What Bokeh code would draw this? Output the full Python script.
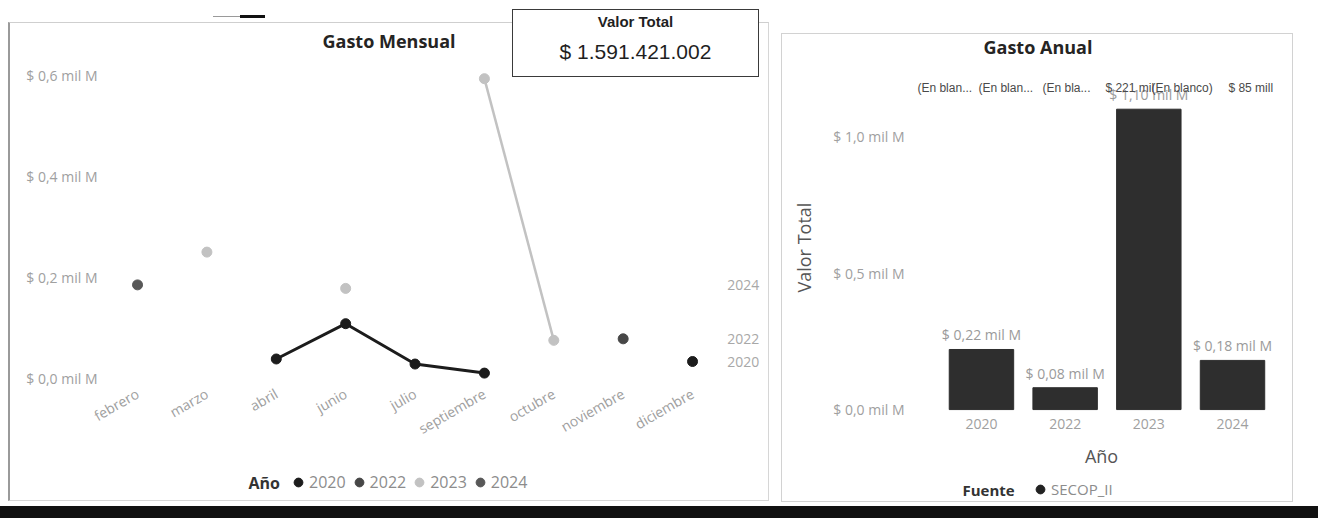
import math
from bokeh.plotting import figure
from bokeh.models import (Range1d, FixedTicker, CustomJSTickFormatter, Legend,
                          LegendItem, Div, Label, Title)
from bokeh.layouts import column
from bokeh.core.properties import value
from bokeh.embed import file_html
from bokeh.resources import INLINE

nan = float("nan")

# ---------------- data ----------------
months = ["febrero", "marzo", "abril", "junio", "julio", "septiembre",
          "octubre", "noviembre", "diciembre"]
series_years = ["2020", "2022", "2023", "2024"]
gasto_2020 = [nan, nan, 0.038, 0.108, 0.028, 0.010, nan, nan, 0.033]
gasto_2022 = [nan, nan, nan, nan, nan, nan, nan, 0.078, nan]
gasto_2023 = [nan, 0.250, nan, 0.178, nan, 0.594, 0.075, nan, nan]
gasto_2024 = [0.185, nan, nan, nan, nan, nan, nan, nan, nan]
end_label_years = ["2020", "2022", "2024"]

annual_years = ["2020", "2022", "2023", "2024"]
annual_total = [0.22, 0.08, 1.10, 0.18]
fuente = "SECOP_II"

top_labels = ["(En blan...", "(En blan...", "(En bla...", "$ 221 mil",
              "(En blanco)", "$ 85 mill"]
valor_total = 1591421002

# ---------------- styles ----------------
FONT = "Open Sans"
TICK = "#a0a0a0"
series_color = {"2020": "#1c1c1c", "2022": "#474747", "2023": "#c2c2c2", "2024": "#585858"}
series_width = {"2020": 3, "2022": 2.5, "2023": 2.5, "2024": 2.5}
monthly = {"2020": gasto_2020, "2022": gasto_2022, "2023": gasto_2023, "2024": gasto_2024}

fmt = CustomJSTickFormatter(code="return '$ ' + tick.toFixed(1).replace('.', ',') + ' mil M';")

LB = 200  # fixed left border of both figures (dominates any measured size)


def style_axes(p):
    for ax in (p.xaxis + p.yaxis):
        ax.axis_line_color = None
        ax.major_tick_line_color = None
        ax.minor_tick_line_color = None
        ax.major_tick_out = 0
        ax.major_tick_in = 0
        ax.major_label_text_font = FONT
        ax.major_label_text_color = TICK
    p.xgrid.grid_line_color = None
    p.ygrid.grid_line_color = None
    p.outline_line_color = None
    p.background_fill_color = "white"
    p.border_fill_color = "white"


def make_legend(items, title, font_size, title_xy, loc, p):
    leg = Legend(items=items, orientation="horizontal", location=loc)
    leg.label_text_font = FONT
    leg.label_text_font_size = font_size
    leg.label_text_color = "#8c8c8c"
    leg.glyph_width = 22
    leg.glyph_height = 22
    leg.label_standoff = 0
    leg.spacing = 2
    leg.padding = 0
    leg.margin = 0
    leg.border_line_color = None
    leg.background_fill_alpha = 0
    p.add_layout(leg, "center")
    p.add_layout(Label(x=title_xy[0], y=title_xy[1], x_units="screen", y_units="screen",
                       text=title, text_font=FONT, text_font_size=font_size,
                       text_font_style="bold", text_color="#333333",
                       text_baseline="middle"))


# ---------------- left: Gasto Mensual ----------------
# frame: page x 85..766, y 56..~494 ; y=0 at page y 377
left = figure(frame_width=681, frame_height=444, x_range=Range1d(-0.75, 9.066),
              y_range=Range1d(-0.2308, 0.638), output_backend="svg",
              toolbar_location=None, title="Gasto Mensual",
              min_border_left=LB, min_border_right=1, min_border_top=40,
              min_border_bottom=40)
style_axes(left)
left.title.text_font = FONT
left.title.text_font_size = "18px"
left.title.text_font_style = "bold"
left.title.text_color = "#252423"
left.title.align = "left"
left.title.offset = 237
left.title.standoff = 7

left.yaxis.ticker = FixedTicker(ticks=[0, 0.2, 0.4, 0.6])
left.yaxis.formatter = fmt
left.yaxis.major_label_text_font_size = "14px"
left.yaxis.major_label_standoff = -12

left.xaxis.ticker = FixedTicker(ticks=list(range(len(months))))
left.xaxis.major_label_overrides = {i: m for i, m in enumerate(months)}
left.xaxis.major_label_orientation = math.pi / 6
left.xaxis.major_label_text_font_size = "14px"
left.xaxis.major_label_standoff = 6
left.xaxis.fixed_location = -0.016

xs = list(range(len(months)))
leg_items = []
for yr in ["2023", "2020", "2022", "2024"]:
    left.line(x=xs, y=monthly[yr], line_color=series_color[yr], line_width=series_width[yr])
for yr in series_years:
    vals = monthly[yr]
    px = [i for i, v in enumerate(vals) if v == v]
    py = [v for v in vals if v == v]
    r = left.scatter(x=px, y=py, size=10, fill_color=series_color[yr],
                     line_color=series_color[yr])
    leg_items.append(LegendItem(label=yr, renderers=[r]))

end_y = []
for yr in end_label_years:
    vals = [v for v in monthly[yr] if v == v]
    end_y.append(vals[-1])
left.text(x=[len(months) - 1 + 0.5] * len(end_label_years), y=end_y, text=end_label_years,
          text_font=value(FONT), text_font_size="14px", text_color="#a8a8a8",
          text_baseline="middle", text_align="left")

make_legend(leg_items, "Año", "16px", (163, 12), (202, 1), left)

# ---------------- right: Gasto Anual ----------------
# frame: page x 912..1290, y 62..~500 ; y=0 at page y 409
right = figure(frame_width=378, frame_height=443, x_range=Range1d(-0.824, 3.693),
               y_range=Range1d(-0.333, 1.271), output_backend="svg",
               toolbar_location=None, title="Gasto Anual",
               min_border_left=LB, min_border_right=1, min_border_top=40,
               min_border_bottom=40)
style_axes(right)
right.border_fill_alpha = 0
right.title.text_font = FONT
right.title.text_font_size = "18px"
right.title.text_font_style = "bold"
right.title.text_color = "#252423"
right.title.align = "left"
right.title.offset = 71
right.title.standoff = 7

right.yaxis.ticker = FixedTicker(ticks=[0, 0.5, 1.0])
right.yaxis.formatter = fmt
right.yaxis.major_label_text_font_size = "14px"
right.yaxis.major_label_standoff = 8
right.add_layout(Title(text="Valor Total", align="left", offset=208, standoff=30,
                       text_font=FONT, text_font_size="18px", text_font_style="normal",
                       text_color="#555555"), "left")

bx = list(range(len(annual_years)))
right.xaxis.ticker = FixedTicker(ticks=bx)
right.xaxis.major_label_overrides = {i: y for i, y in enumerate(annual_years)}
right.xaxis.major_label_text_font_size = "14px"
right.xaxis.major_label_standoff = 9
right.xaxis.axis_label = "Año"
right.xaxis.axis_label_text_font = FONT
right.xaxis.axis_label_text_font_size = "18px"
right.xaxis.axis_label_text_font_style = "normal"
right.xaxis.axis_label_text_color = "#555555"
right.xaxis.axis_label_standoff = 12
right.xaxis.fixed_location = 0

right.vbar(x=bx, top=annual_total, width=0.77, fill_color="#2e2e2e", line_color="#2e2e2e")
bar_labels = ["$ " + f"{v:.2f}".replace(".", ",") + " mil M" for v in annual_total]
right.text(x=bx, y=annual_total, text=bar_labels, text_font=value(FONT),
           text_font_size="14px", text_color="#9a9a9a", text_align="center",
           text_baseline="bottom", y_offset=-5)

top_x = [-0.765, -0.036, 0.729, 1.481, 2.031, 2.951]
right.text(x=top_x, y=[1.179] * len(top_labels), text=top_labels,
           text_font=value("Liberation Sans"), text_font_size="12px",
           text_color="#4a4a4a", text_align="left", text_baseline="middle")

src_r = right.scatter(x=bx, y=annual_total, size=0, fill_color="#222222", line_color="#222222")
make_legend([LegendItem(label=fuente, renderers=[src_r])], "Fuente", "15px", (50, 11),
            (117, 0), right)

# ---------------- page (absolute positions, page pixels) ----------------
def place(obj, x, y, extra=None):
    st = {"position": "absolute", "left": f"{x}px", "top": f"{y}px"}
    if extra:
        st.update(extra)
    obj.styles = st


place(left, 85 - LB, 56 - 40)
place(right, 912 - LB, 62 - 40)

panel_l = Div(text="", width=761, height=479, margin=0)
place(panel_l, 8, 22, {"box-sizing": "border-box", "border-left": "2px solid #9a9a9a",
                       "border-top": "1px solid #cfcfcf", "border-right": "1px solid #d6d6d6",
                       "border-bottom": "1px solid #d6d6d6", "pointer-events": "none",
                       "z-index": "2"})
panel_r = Div(text="", width=512, height=469, margin=0)
place(panel_r, 781, 33, {"box-sizing": "border-box", "border": "1px solid #d2d2d2",
                         "pointer-events": "none", "z-index": "2"})

cover_top = Div(text="", width=540, height=22, margin=0)
place(cover_top, 770, 0, {"background": "#ffffff", "z-index": "1"})

total_txt = "$ " + f"{valor_total:,}".replace(",", ".")
card = Div(text=(
    '<div style="box-sizing:border-box;width:247px;height:68px;border:1.5px solid #3a3a3a;'
    'background:#ffffff;text-align:center;font-family:\'Liberation Sans\',Arial,sans-serif;'
    'color:#1f1f1f;">'
    '<div style="font-weight:bold;font-size:15px;line-height:17px;padding-top:3px;">Valor Total</div>'
    f'<div style="font-size:21px;line-height:24px;padding-top:10px;">{total_txt}</div>'
    '</div>'), width=247, height=68, margin=0)
place(card, 512, 9, {"z-index": "5"})

topmark = Div(text=('<div style="display:flex;height:3px;">'
                    '<div style="width:27px;height:1px;margin-top:1px;background:#9a9a9a;"></div>'
                    '<div style="width:25px;height:3px;background:#111111;"></div></div>'),
              width=52, height=3, margin=0)
place(topmark, 213, 5, {"z-index": "5"})

band = Div(text='<div style="width:1318px;height:12px;background:#111111;"></div>',
           width=1318, height=12, margin=0)
place(band, 0, 506, {"z-index": "5"})

root = column(children=[left, right, cover_top, panel_l, panel_r, card, topmark, band],
              width=1318, height=518, styles={"position": "relative", "overflow": "hidden"})

open("out.html", "w").write(file_html(root, INLINE))
